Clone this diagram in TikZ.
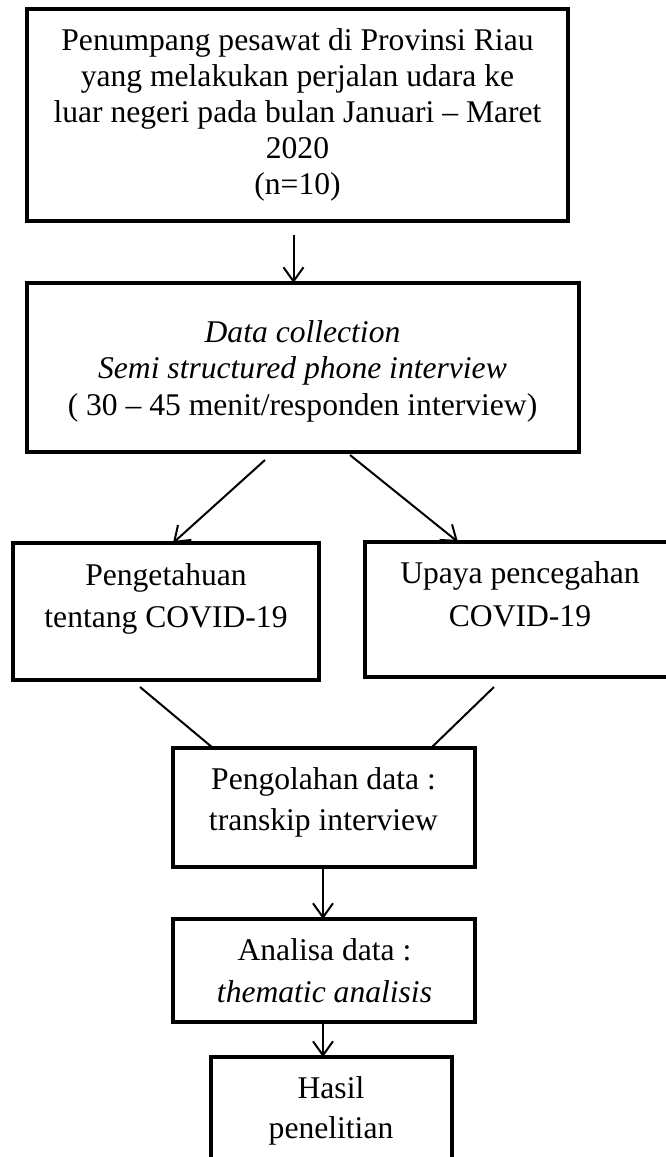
\documentclass[tikz,border=0pt]{standalone}
\usepackage{fontspec}
\setmainfont{Liberation Serif}
\usetikzlibrary{arrows.meta}
\newcommand\mlines[2]{\vtop{\baselineskip=#1\halign{\hfil##\hfil\cr#2\cr}}}
\begin{document}
\begin{tikzpicture}[x=1pt,y=-1pt,
  box/.style={draw,line width=4.2pt,rectangle,inner sep=0pt,outer sep=0pt},
  txt/.style={anchor=base,inner sep=0pt,font=\fontsize{31.6pt}{36.3pt}\selectfont},
  arr/.style={line width=2pt,-{Straight Barb[length=14pt,width=20pt,line width=2pt]}},
  conn/.style={line width=2pt}]
\useasboundingbox (0,0) rectangle (666,1157);
\clip (0,0) rectangle (666,1157);
% boxes
\node[box,minimum width=541pt,minimum height=212pt] (b1) at (297.5,115) {};
\node[box,minimum width=552pt,minimum height=169pt] (b2) at (303,367.5) {};
\node[box,minimum width=306pt,minimum height=137pt] (b3) at (166,611.5) {};
\node[box,minimum width=310pt,minimum height=135pt] (b4) at (520,609.5) {};
\node[box,minimum width=302pt,minimum height=119pt] (b5) at (324,807.5) {};
\node[box,minimum width=302pt,minimum height=103pt] (b6) at (324,970.5) {};
\node[box,minimum width=241pt,minimum height=143pt] (b7) at (331.5,1128.5) {};
% texts
\node[txt] (t1) at (297.5,50) {\mlines{36.2pt}{Penumpang pesawat di Provinsi Riau\cr yang melakukan perjalan udara ke\cr luar negeri pada bulan Januari – Maret\cr 2020\cr (n=10)}};
\node[txt] (t2) at (302.5,342) {\mlines{36.5pt}{\textit{Data collection}\cr \textit{Semi structured phone interview}\cr ( 30 – 45 menit/responden interview)}};
\node[txt] (t3) at (166,585) {\mlines{42pt}{Pengetahuan\cr tentang COVID-19}};
\node[txt] (t4) at (520,583) {\mlines{43pt}{Upaya pencegahan\cr COVID-19}};
\node[txt] (t5) at (323.5,789) {\mlines{41pt}{Pengolahan data :\cr transkip interview}};
\node[txt] (t6) at (324.5,960) {\mlines{42pt}{Analisa data :\cr \textit{thematic analisis}}};
\node[txt] (t7) at (331,1098) {\mlines{40pt}{Hasil\cr penelitian}};
% connectors
\draw[arr] ([xshift=-4pt,yshift=-14pt]b1.south) -- ([xshift=-4pt]b1.south |- b2.north);
\draw[arr] ([xshift=238pt,yshift=-8pt]b2.south west) -- ([xshift=160pt]b3.north west);
\draw[arr] ([xshift=323pt,yshift=-3pt]b2.south west) -- ([xshift=93pt]b4.north west);
\draw[conn] ([xshift=127pt,yshift=-7pt]b3.south west) -- ([xshift=40pt]b5.north west);
\draw[conn] ([xshift=129pt,yshift=-10pt]b4.south west) -- ([xshift=258pt]b5.north west);
\draw[arr] ([xshift=-1pt]b5.south) -- ([xshift=-1pt]b5.south |- b6.north);
\draw[arr] ([xshift=-1pt]b6.south) -- ([xshift=-1pt]b6.south |- b7.north);
\end{tikzpicture}
\end{document}
